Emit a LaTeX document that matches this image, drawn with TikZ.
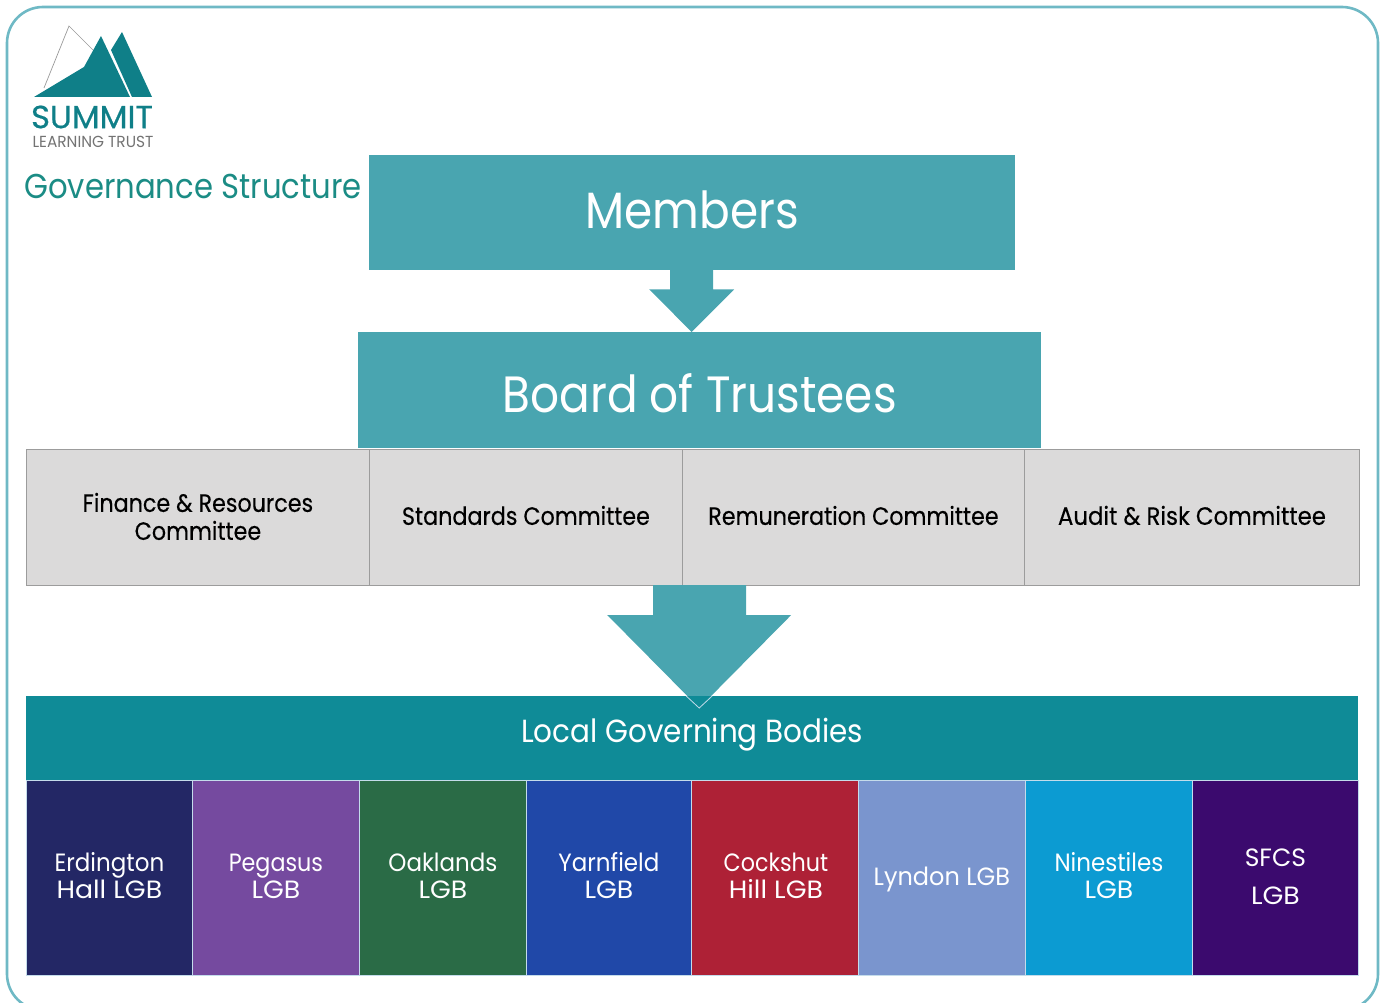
\documentclass[tikz,border=0pt]{standalone}
\usepackage{fontspec}
\setmainfont{Poppins}
\newfontfamily\nine[FakeStretch=0.89]{Poppins}
\newfontfamily\nineb[FakeStretch=0.92]{Poppins}
\newfontfamily\comf[FakeStretch=0.89,FakeBold=0.3]{Poppins}
\newfontfamily\audf[FakeStretch=0.915,FakeBold=0.3]{Poppins}
\newfontfamily\wide[FakeStretch=1.07]{Poppins}
\newfontfamily\wideb[FakeStretch=0.96]{Poppins}
\newfontfamily\logof[FakeStretch=1.01,FakeBold=0.6]{Poppins}
\usetikzlibrary{calc}
\definecolor{frameC}{HTML}{6FB9C5}
\definecolor{tealA}{HTML}{49A5B0}
\definecolor{tealB}{HTML}{0F8B97}
\definecolor{logoC}{HTML}{0F7F88}
\definecolor{titleC}{HTML}{1B8C85}
\definecolor{greyC}{HTML}{DBDADA}
\definecolor{greyL}{HTML}{9C9C9C}
\definecolor{cellL}{HTML}{C4DCEB}
\definecolor{l1}{HTML}{232765}\definecolor{l2}{HTML}{754A9F}\definecolor{l3}{HTML}{2A6B46}\definecolor{l4}{HTML}{2048A8}
\definecolor{l5}{HTML}{AE2136}\definecolor{l6}{HTML}{7A95CE}\definecolor{l7}{HTML}{0C9BD2}\definecolor{l8}{HTML}{3B0A6E}
\tikzset{
 box/.style={anchor=north west,inner sep=0pt,align=center},
 head/.style={box,fill=tealA},
 comm/.style={box,fill=greyC,draw=greyL,line width=0.9pt,minimum height=136pt},
 lgb/.style={box,draw=cellL,line width=0.8pt,minimum height=195pt},
 bigtext/.style={inner sep=0pt,text=white,font=\nine\fontsize{51}{51}\selectfont},
 commtext/.style={inner sep=0pt,align=center,text=black,font=\comf\fontsize{25}{28}\selectfont},
 lgbtext/.style={inner sep=0pt,align=center,text=white,font=\nineb\fontsize{25}{27}\selectfont},
 blockarrow/.style={fill=tealA}
}
\begin{document}
\begin{tikzpicture}[x=1pt,y=-1pt]
\useasboundingbox (0,0) rectangle (1383,1003);
\draw[frameC,line width=2.6pt,rounded corners=36pt] (7,7) rectangle (1378,1010);
% logo
\draw[gray!80,line width=0.7pt] (44,88) -- (69,26) -- (93,50);
\fill[logoC] (34,97) -- (84,67) -- (101,36) -- (130,97) -- cycle;
\fill[logoC] (111,50) -- (122,32) -- (152,97) -- (132,97) -- cycle;
\node[inner sep=0pt,text=logoC,font=\logof\fontsize{32}{32}\selectfont] (logoa) at (92,117) {SUMMIT};
\node[inner sep=0pt,text=gray!90!black,font=\wideb\fontsize{16}{16}\selectfont] (logob) at (93,142) {LEARNING TRUST};
\node[inner sep=0pt,text=titleC,font=\nine\fontsize{34.5}{35}\selectfont] (title) at (193,186) {Governance Structure};
% heads
\node[head,minimum width=646pt,minimum height=115pt] (members) at (369,155) {};
\node[bigtext] (memberst) at ($(members.center)+(0,-3)$) {Members};
\node[head,minimum width=683pt,minimum height=116pt] (board) at (358,332) {};
\node[bigtext] (boardt) at ($(board.center)+(0,3)$) {Board of Trustees};
% committees
\node[comm,minimum width=343pt] (c1) at (26,449) {};
\node[comm,minimum width=313pt] (c2) at (369,449) {};
\node[comm,minimum width=342pt] (c3) at (682,449) {};
\node[comm,minimum width=335pt] (c4) at (1024,449) {};
\node[commtext] (c1t) at ($(c1.center)+(0,-1)$) {Finance \& Resources\\Committee};
\node[commtext] (c2t) at ($(c2.center)+(0,-2)$) {Standards Committee};
\node[commtext] (c3t) at ($(c3.center)+(0,-2)$) {Remuneration Committee};
\node[commtext,font=\audf\fontsize{25}{28}\selectfont] (c4t) at ($(c4.center)+(0,-2)$) {Audit \& Risk Committee};
% LGB head
\node[box,fill=tealB,minimum width=1332pt,minimum height=84pt] (lgbhead) at (26,696) {};
\node[inner sep=0pt,text=white,font=\nineb\fontsize{32}{32}\selectfont] (lgbt) at ($(lgbhead.center)+(0,-4)$) {Local Governing Bodies};
% cells
\node[lgb,fill=l1,minimum width=166pt] (b1) at (26,780) {};
\node[lgb,fill=l2,minimum width=167pt] (b2) at (192,780) {};
\node[lgb,fill=l3,minimum width=167pt] (b3) at (359,780) {};
\node[lgb,fill=l4,minimum width=165pt] (b4) at (526,780) {};
\node[lgb,fill=l5,minimum width=167pt] (b5) at (691,780) {};
\node[lgb,fill=l6,minimum width=167pt] (b6) at (858,780) {};
\node[lgb,fill=l7,minimum width=167pt] (b7) at (1025,780) {};
\node[lgb,fill=l8,minimum width=166pt] (b8) at (1192,780) {};
\node[lgbtext] (t1) at ($(b1.center)+(0,-2)$) {Erdington\\{\wide Hall LGB}};
\node[lgbtext] (t2) at ($(b2.center)+(0,-2)$) {{\nine Pegasus}\\{\wide LGB}};
\node[lgbtext] (t3) at ($(b3.center)+(0,-2)$) {Oaklands\\{\wide LGB}};
\node[lgbtext] (t4) at ($(b4.center)+(0,-2)$) {Yarnfield\\{\wide LGB}};
\node[lgbtext] (t5) at ($(b5.center)+(1,-2)$) {{\nine Cockshut}\\{\wide Hill LGB}};
\node[lgbtext,font=\wideb\fontsize{25}{27}\selectfont] (t6) at ($(b6.center)+(0,2)$) {Lyndon LGB};
\node[lgbtext] (t7) at ($(b7.center)+(0,-2)$) {Ninestiles\\{\wide LGB}};
\node[lgbtext,font=\fontsize{25}{38}\selectfont] (t8) at ($(b8.center)+(0,-1)$) {SFCS\\{\wide LGB}};
% arrows
\coordinate (tipa) at ($(board.north)+(-8,0)$);
\coordinate (basea) at ($(members.south)+(0,0)$);
\fill[blockarrow] ($(basea)+(-22,-1)$) -- ($(basea)+(-22,19)$) -- ($(basea)+(-43,19)$) -- (tipa) -- ($(basea)+(42,19)$) -- ($(basea)+(21,19)$) -- ($(basea)+(21,-1)$) -- cycle;
\coordinate (tipb) at ($(lgbhead.north)+(7,12)$);
\coordinate (baseb) at ($(tipb)+(0,-123)$);
\fill[blockarrow] ($(baseb)+(-46,0)$) -- ($(baseb)+(-46,30)$) -- ($(baseb)+(-92,30)$) -- (tipb) -- ($(baseb)+(92,30)$) -- ($(baseb)+(47,30)$) -- ($(baseb)+(47,0)$) -- cycle;
\fill[tealB] ($(tipb)+(-12,-12)$) -- (tipb) -- ($(tipb)+(12,-12)$) -- cycle;
\draw[cellL,line width=0.8pt] ($(tipb)+(-13,-12)$) -- (tipb) -- ($(tipb)+(13,-12)$);
\end{tikzpicture}
\end{document}
